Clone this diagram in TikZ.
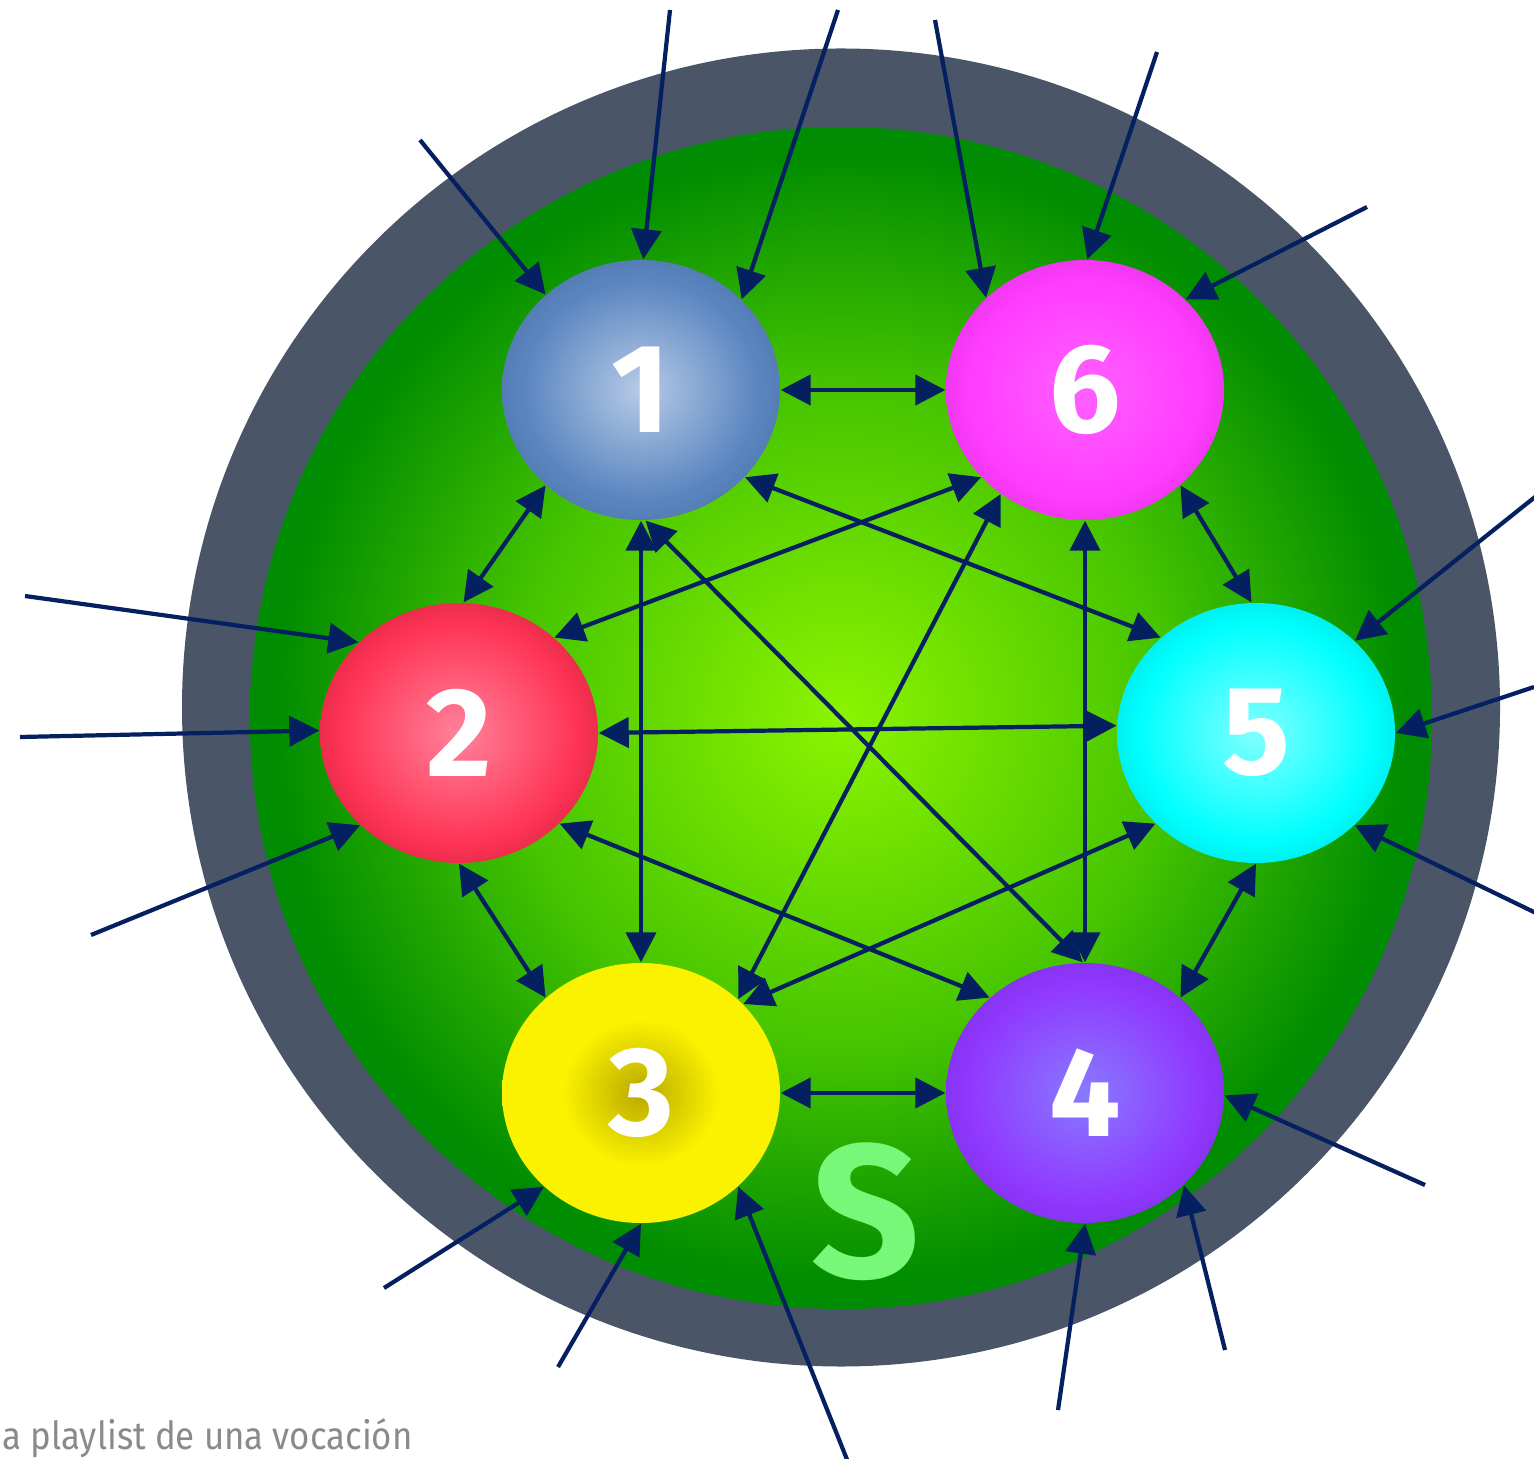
\documentclass[tikz,border=0pt]{standalone}
\usepackage{fontspec}
\setmainfont{Fira Sans}
\usepackage{graphicx}
\usetikzlibrary{shapes.geometric, arrows.meta}

\definecolor{ringgray}{RGB}{74,86,103}
\definecolor{linknavy}{RGB}{4,32,96}
\definecolor{sgreen}{RGB}{120,248,120}
\definecolor{capgray}{RGB}{138,138,138}
\definecolor{disc0}{RGB}{140,244,0}
\definecolor{disc1}{RGB}{70,196,0}
\definecolor{disc2}{RGB}{0,140,0}
\definecolor{disc3}{RGB}{0,142,32}
\definecolor{blu0}{RGB}{182,202,230}
\definecolor{blu1}{RGB}{90,134,192}
\definecolor{blu2}{RGB}{72,104,158}
\definecolor{mag0}{RGB}{255,96,255}
\definecolor{mag1}{RGB}{255,60,255}
\definecolor{mag2}{RGB}{206,44,206}
\definecolor{red0}{RGB}{255,130,154}
\definecolor{red1}{RGB}{255,52,86}
\definecolor{red2}{RGB}{192,26,54}
\definecolor{cyn0}{RGB}{130,255,255}
\definecolor{cyn1}{RGB}{0,255,255}
\definecolor{cyn2}{RGB}{0,206,206}
\definecolor{yel0}{RGB}{186,168,0}
\definecolor{yel1}{RGB}{250,242,0}
\definecolor{yel2}{RGB}{236,226,0}
\definecolor{vio0}{RGB}{136,122,255}
\definecolor{vio1}{RGB}{144,56,255}
\definecolor{vio2}{RGB}{118,40,210}

\newcommand\ballshade[4]{\pgfdeclareradialshading{#1}{\pgfpoint{0bp}{0bp}}{color(0bp)=(#2); color(21bp)=(#3); color(35bp)=(#4); color(50bp)=(#4)}}
\ballshade{ball1}{blu0}{blu1}{blu2}
\ballshade{ball6}{mag0}{mag1}{mag2}
\ballshade{ball2}{red0}{red1}{red2}
\ballshade{ball5}{cyn0}{cyn1}{cyn2}
\ballshade{ball4}{vio0}{vio1}{vio2}
\pgfdeclareradialshading{ball3}{\pgfpoint{0bp}{0bp}}{color(0bp)=(yel0); color(14bp)=(yel1); color(31bp)=(yel1); color(35bp)=(yel2); color(50bp)=(yel2)}
\pgfdeclareradialshading{disc}{\pgfpoint{0bp}{0bp}}{color(0bp)=(disc0); color(14bp)=(disc1); color(24bp)=(disc2); color(35bp)=(disc3); color(50bp)=(disc3)}

\begin{document}
\begin{tikzpicture}[
    ball/.style={ellipse, minimum width=2.78cm, minimum height=2.60cm, inner sep=0pt,
      shade, text=white, font=\bfseries\fontsize{36}{36}\selectfont},
    link/.style={linknavy, line width=1.2pt,
      {Triangle[length=3mm,width=3mm]}-{Triangle[length=3mm,width=3mm]}},
    feed/.style={linknavy, line width=1.2pt, -{Triangle[length=3mm,width=3mm]}}]
  \useasboundingbox (0,0) rectangle (15.34,-14.59);

  % cell
  \fill[ringgray] (8.41,-7.075) circle (6.59);
  \shade[shading=disc] (8.41,-7.18) circle (5.91);
  \node[text=sgreen, font=\bfseries\fontsize{54}{54}\selectfont] (s) at (8.66,-12.12) {S};

  \node[ball, shading=ball1] (n1) at (6.41,-3.90) {1};
  \node[ball, shading=ball6] (n6) at (10.85,-3.90) {6};
  \node[ball, shading=ball2] (n2) at (4.59,-7.33) {2};
  \node[ball, shading=ball5] (n5) at (12.56,-7.33) {5};
  \node[ball, shading=ball3] (n3) at (6.41,-10.93) {3};
  \node[ball, shading=ball4] (n4) at (10.85,-10.93) {4};

  % inputs from outside
  \foreach \x/\y/\t [count=\i] in {4.20/-1.40/n1.135, 6.70/-0.10/n1.89, 8.38/-0.10/n1.42,
      9.35/-0.20/n6.137, 11.57/-0.52/n6.89, 13.67/-2.07/n6.42,
      0.25/-5.96/n2.138, 0.20/-7.37/n2.179, 0.91/-9.35/n2.223,
      15.40/-4.93/n5.43, 15.34/-6.87/n5.0, 15.38/-9.14/n5.317,
      14.25/-11.85/n4.359, 12.25/-13.50/n4.317, 10.58/-14.10/n4.270,
      8.48/-14.62/n3.316, 5.58/-13.67/n3.270, 3.84/-12.88/n3.224}{
    \coordinate (src\i) at (\x,\y);
    \draw[feed] (src\i) -- (\t);
  }

  % links between the six
  \foreach \a/\b in {n1.0/n6.180, n1.225/n2.88, n6.315/n5.92, n2.270/n3.135,
      n5.270/n4.45, n3.0/n4.180, n1.270/n3.90, n6.270/n4.90, n2.45/n6.220,
      n1.320/n5.135, n2.0/n5.177, n2.318/n4.135, n5.222/n3.41, n6.231/n3.44,
      n1.272/n4.91}
    \draw[link] (\a) -- (\b);

  \node[anchor=base west, inner sep=0pt, text=capgray, font=\fontsize{11}{11}\selectfont]
    (cap) at (0.02,-14.49) {\scalebox{0.9}[1]{a playlist de una vocación}};
\end{tikzpicture}
\end{document}
